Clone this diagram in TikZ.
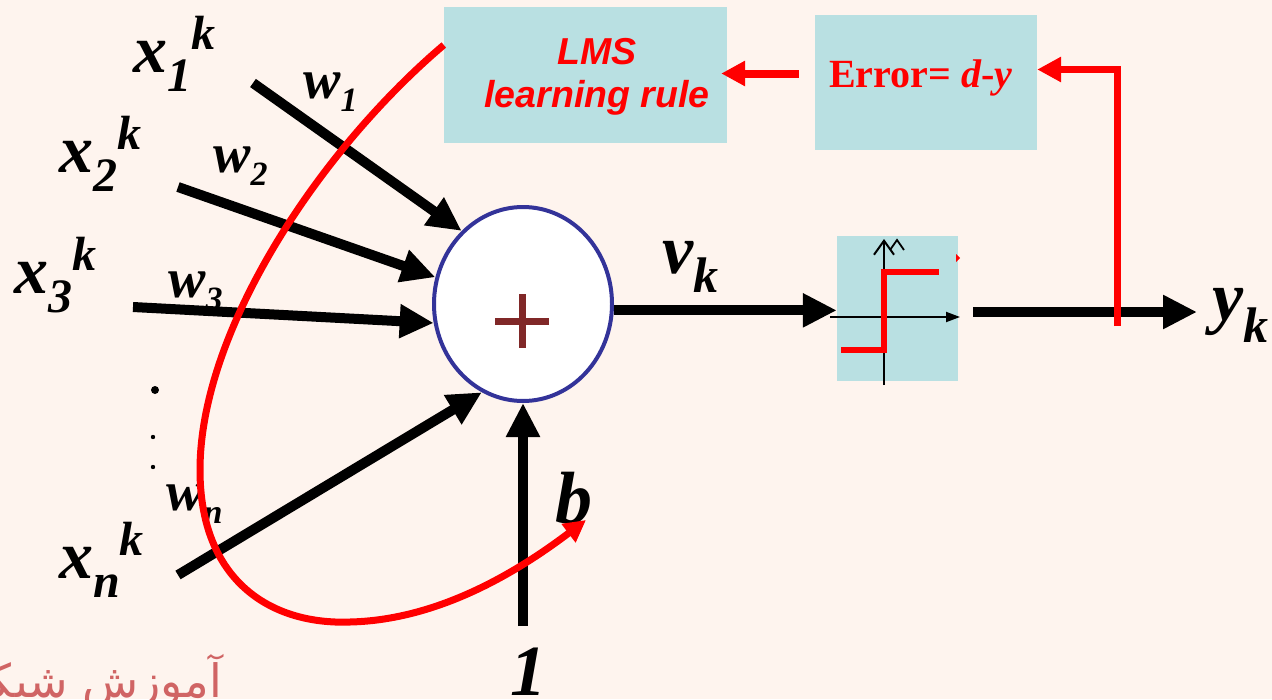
\documentclass[tikz,border=0pt]{standalone}
\usepackage{fontspec}
\setmainfont{Liberation Serif}
\newfontfamily\lmsfont{Liberation Sans}
\newfontfamily\arabicfont[Script=Arabic]{DejaVu Sans}
\TeXXeTstate=1
\usetikzlibrary{arrows.meta,calc,positioning,shapes.geometric}
\definecolor{bgpeach}{RGB}{254,244,238}
\definecolor{boxblue}{RGB}{185,224,226}
\definecolor{sumblue}{RGB}{51,51,153}
\definecolor{plusred}{RGB}{128,40,40}
\definecolor{markred}{RGB}{208,100,100}
\newcommand{\fs}[1]{\fontsize{#1}{#1}\selectfont}
\newcommand{\inlbl}[3]{\fs{68}#1\raisebox{-19pt}{\fs{48}#2}\raisebox{23pt}{\fs{48}#3}}
\newcommand{\wlbl}[2]{\fs{56}#1\raisebox{-13pt}{\fs{34}#2}}

\begin{document}
\begin{tikzpicture}[x=1pt,y=-1pt,
  inarrow/.style={line width=10pt,-{Triangle[length=34pt,width=32pt]}},
  redarrow/.style={red,line width=7pt,-{Triangle[length=24pt,width=24pt]}},
  lbl/.style={anchor=base west,inner sep=0pt,font=\bfseries\itshape},
  bluebox/.style={fill=boxblue,inner sep=0pt}]
\fill[bgpeach] (0,0) rectangle (1272,699);
\useasboundingbox (0,0) rectangle (1272,699);
% boxes
\node[bluebox,minimum width=283pt,minimum height=136pt] (lms) at (585.5,75) {};
\node[red,inner sep=0pt,align=center,font=\lmsfont\bfseries\itshape\fontsize{37.5}{43}\selectfont] (lmstext) at (597,77) {LMS\\learning rule};
\node[bluebox,minimum width=222pt,minimum height=135pt] (err) at (926,82.5) {};
\node[red,anchor=base,inner sep=0pt,font=\bfseries\fs{40}] (errtext) at (921,87) {Error= \textit{d}-\textit{y}};
\node[bluebox,minimum width=121pt,minimum height=145pt] (act) at (897.5,308.5) {};
\node[ellipse,draw=sumblue,line width=4pt,fill=white,minimum width=178pt,minimum height=194pt,inner sep=0pt] (sum) at (523,304) {};
\draw[plusred,line width=7pt] (495,321) -- (549,321) (522,294) -- (522,348);
% step function
\draw[line width=2pt,-{Triangle[length=14pt,width=10pt]}] (830,317) -- (960,317);
\draw[line width=2pt,-{Straight Barb[length=14pt,width=20pt]}] (884,385) -- (884,239);
\draw[line width=1.8pt] (890,250) -- (897,240) -- (904,250);
\draw[red,line width=6pt] (841,350) -- (884,350) -- (884,272) -- (939,272);
\fill[red] (956,254) -- (960,258) -- (956,262) -- cycle;
% inputs
\coordinate (in1) at (253,83); \coordinate (in2) at (178,187);
\coordinate (in3) at (133,307); \coordinate (inn) at (178,575);
\coordinate (one) at (523,626);
\coordinate (yst) at (973,312); \coordinate (yend) at (1197,312);
\draw[inarrow] (in1) -- (sum.130);
\draw[inarrow] (in2) -- (sum.163);
\draw[inarrow] (in3) -- (sum.192);
\draw[inarrow] (inn) -- (sum.245);
\draw[inarrow] (one) -- (sum.south);
\draw[inarrow] (sum.-4) -- (sum.-4 -| act.west);
\draw[inarrow] (yst) -- (yend);
\fill (155,390) circle (4pt); \fill (153,437) circle (2.2pt); \fill (153,467) circle (2.2pt);
% labels
\node[lbl] (x1) at (133,72) {\inlbl{x}{1}{k}};
\node[lbl] (x2) at (59,172) {\inlbl{x}{2}{k}};
\node[lbl] (x3) at (14,293) {\inlbl{x}{3}{k}};
\node[lbl] (xn) at (59,578) {\inlbl{x}{n}{k}};
\node[lbl] (w1) at (303,98) {\wlbl{w}{1}};
\node[lbl] (w2) at (213,172) {\wlbl{w}{2}};
\node[lbl] (w3) at (168,297) {\wlbl{w}{3}};
\node[lbl] (wn) at (166,510) {\wlbl{w}{n}};
\node[lbl] (vk) at (662,273) {\fs{70}v\raisebox{-19pt}{\fs{50}k}};
\node[lbl] (yk) at (1212,320) {\fs{70}y\raisebox{-22pt}{\fs{50}k}};
\node[lbl] (b) at (555,523) {\fs{74}b};
\node[lbl] (onetext) at (510,695) {\fs{72}1};
\node[anchor=base east,inner sep=0pt,text=markred,font=\arabicfont\fs{46}] (mark) at (222,697) {\beginR آموزش شبکه\endR};
% feedback
\coordinate (fb) at (1117,326); \coordinate (bend) at (586,520);
\draw[redarrow] (fb) |- ($(err.east)+(0,-13)$);
\draw[redarrow,line width=8pt] ($(err.west)+(-16,-9)$) -- ($(err.west -| lms.east)+(-6,-9)$);
\draw[red,line width=7pt,-{Triangle[length=22pt,width=22pt]}] ($(lms.west)+(0,-30)$) .. controls (320,150) and (200,330) .. (200,470) .. controls (200,580) and (270,625) .. (350,622) .. controls (440,620) and (520,570) .. (bend);
\end{tikzpicture}
\end{document}
